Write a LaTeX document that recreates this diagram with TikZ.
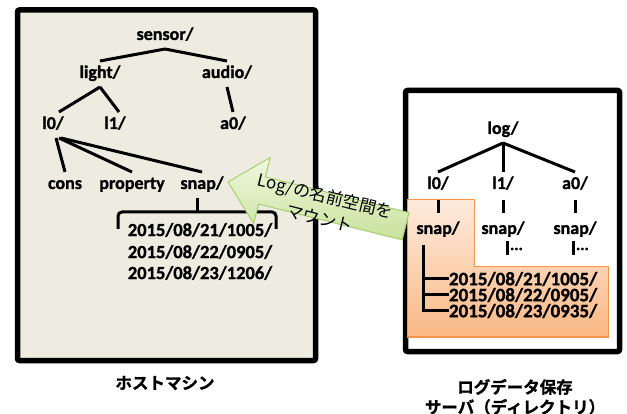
\documentclass[tikz,border=0pt]{standalone}
\usepackage{fontspec}
\setmainfont{Carlito}
\newfontfamily\cb{Carlito Bold}[FakeBold=1.2]
\newfontfamily\jp{Noto Sans CJK JP}
\newfontfamily\jpb{Noto Sans CJK JP Bold}[FakeBold=1.2]
\definecolor{boxbeige}{HTML}{EEECE1}
\definecolor{orB}{HTML}{F79646}
\definecolor{orTop}{HTML}{FDEBDD}
\definecolor{orBot}{HTML}{FAB884}
\definecolor{grB}{HTML}{A9CD6E}
\definecolor{grTop}{HTML}{F0F8E0}
\definecolor{grBot}{HTML}{C8E29C}
\begin{document}
\begin{tikzpicture}[x=1pt,y=-1pt,
  lbl/.style={font=\cb\fontsize{18}{18}\selectfont, inner sep=0pt, outer sep=5pt, text height=12pt, text depth=4pt},
  datel/.style={font=\cb\fontsize{18.5}{18.5}\selectfont, inner sep=0pt},
  dater/.style={font=\cb\fontsize{19}{19}\selectfont, inner sep=0pt, outer sep=0pt, anchor=west},
  dots/.style={font=\cb\fontsize{16}{16}\selectfont, inner sep=0pt, outer sep=0pt, anchor=west},
  edge/.style={line width=3pt},
  frame/.style={line width=5.5pt, rounded corners=2pt},
  captext/.style={font=\jpb\fontsize{16.5}{20}\selectfont, align=center}]
\useasboundingbox (0,0) rectangle (627,414);

% left box
\draw[frame, fill=boxbeige] (17.5,10) rectangle (315.5,360.5);
\node[lbl] (sensor) at (165,36) {sensor/};
\node[lbl] (light) at (100,74) {light/};
\node[lbl] (audio) at (227,74) {audio/};
\node[lbl] (l0) at (53,125) {l0/};
\node[lbl] (l1) at (115,125) {l1/};
\node[lbl] (a0) at (233,125) {a0/};
\node[lbl] (cons) at (65,185) {cons};
\node[lbl] (prop) at (132,185) {property};
\node[lbl] (snap) at (202,185) {snap/};
\draw[edge] (sensor.south) -- (light.north);
\draw[edge] (sensor.south) -- (audio.north);
\draw[edge] (light.south) -- ([xshift=6pt]l0.north);
\draw[edge] (light.south) -- ([xshift=4pt]l1.north);
\draw[edge] (audio.south) -- (a0.north);
\draw[edge] ([xshift=3pt]l0.south) -- (cons.north);
\draw[edge] ([xshift=6pt]l0.south) -- (prop.north);
\draw[edge] ([xshift=8pt]l0.south) -- (snap.north);
\coordinate (brC) at (197,212);
\draw[edge] (snap.south -| brC) -- (brC);
\draw[edge, rounded corners=4pt] (118,229) -- (118,212) -- (276,212) -- (276,229);
\node[datel] (ld1) at (200,230) {2015/08/21/1005/};
\node[datel] (ld2) at (200,252) {2015/08/22/0905/};
\node[datel] (ld3) at (200,273) {2015/08/23/1206/};

% right box
\draw[frame, fill=white] (405.5,90.5) rectangle (619.5,351.5);
\path[draw=orB, line width=1pt, top color=orTop, bottom color=orBot]
  (407,200) -- (474,200) -- (474,267) -- (608,267) -- (608,337) -- (407,337) -- cycle;
\node[lbl] (log) at (503,130) {log/};
\node[lbl] (rl0) at (438,185) {l0/};
\node[lbl] (rl1) at (503,185) {l1/};
\node[lbl] (ra0) at (575,185) {a0/};
\node[lbl] (rs0) at (438,230) {snap/};
\node[lbl] (rs1) at (503,230) {snap/};
\node[lbl] (rs2) at (575,230) {snap/};
\draw[edge] (log.south) -- (rl0.north);
\draw[edge] (log.south) -- (rl1.north);
\draw[edge] (log.south) -- (ra0.north);
\draw[edge, shorten <=2pt, shorten >=4pt] (rl0.south) -- (rs0.north);
\draw[edge, shorten <=2pt, shorten >=4pt] (rl1.south) -- (rs1.north);
\draw[edge, shorten <=2pt, shorten >=4pt] (ra0.south) -- (rs2.north);
\node[dots] (dt1) at (510,249) {...};
\node[dots] (dt2) at (576,249) {...};
\draw[edge] ([xshift=-3pt]dt1.west) ++(0,-8) -- ++(0,14);
\draw[edge] ([xshift=-3pt]dt2.west) ++(0,-8) -- ++(0,14);
\node[dater] (rd1) at (449,279) {2015/08/21/1005/};
\node[dater] (rd2) at (449,295) {2015/08/22/0905/};
\node[dater] (rd3) at (449,311) {2015/08/23/0935/};
\coordinate (trunk) at (423,245);
\draw[edge] (trunk) |- (rd3.west);
\draw[edge] (trunk |- rd1.west) -- (rd1.west);
\draw[edge] (trunk |- rd2.west) -- (rd2.west);

% mount arrow
\begin{scope}[shift={(228,182)}, rotate=-14]
  \path[draw=grB, line width=1pt, top color=grTop, bottom color=grBot]
    (0,0) -- (35,-34) -- (35,-14) -- (183,-14) -- (183,14) -- (35,14) -- (35,34) -- cycle;
  \node[font=\jp\fontsize{17}{23}\selectfont, align=center, rotate=-14, inner sep=0pt] (mtxt) at (98,1) {Log/の名前空間を\\マウント};
\end{scope}

% captions
\node[captext] (host) at (165,383) {ホストマシン};
\node[captext] (srv) at (515,397) {ログデータ保存\\サーバ（ディレクトリ）};
\end{tikzpicture}
\end{document}
